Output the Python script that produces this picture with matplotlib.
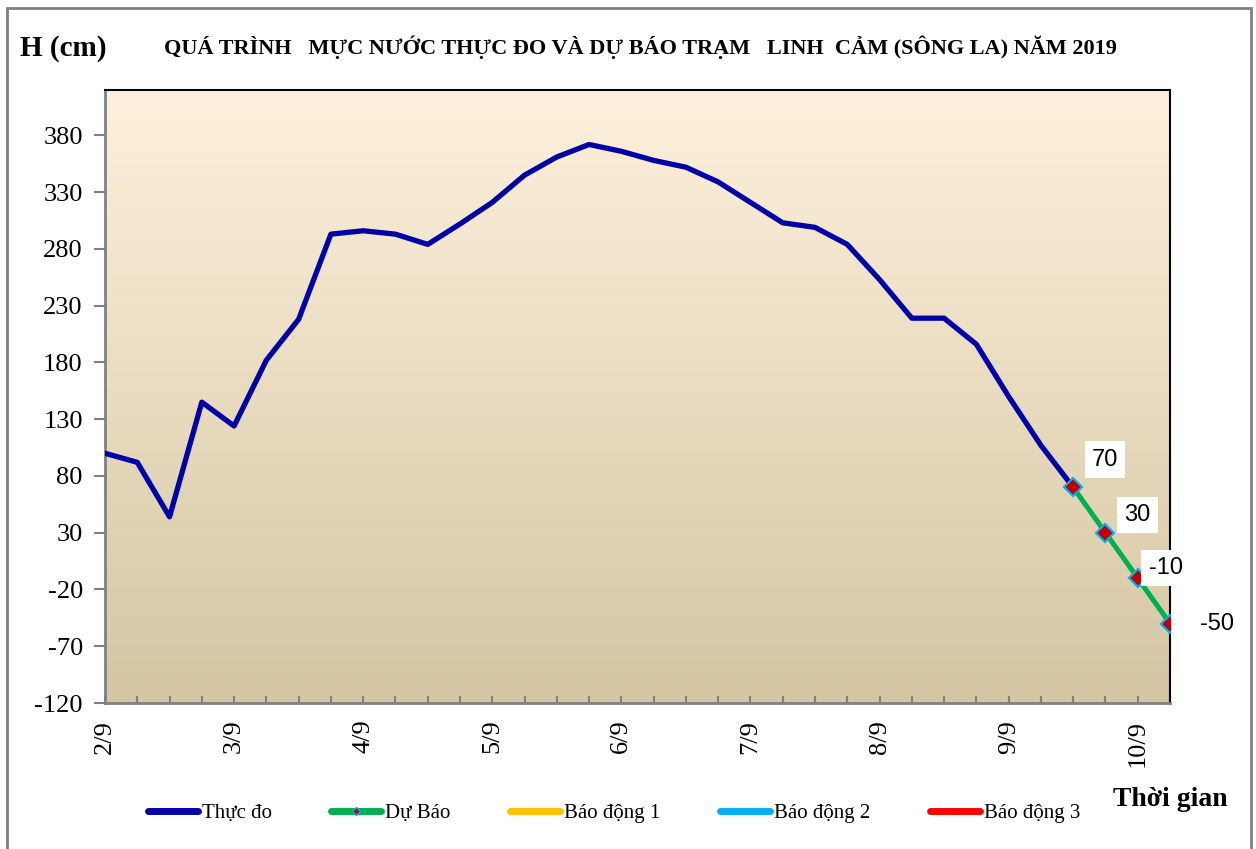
import numpy as np
import matplotlib
matplotlib.use("Agg")
import matplotlib.pyplot as plt
from matplotlib.lines import Line2D
from matplotlib.patches import Rectangle

# observed water level, every 6 hours from 2/9 00h
thuc_do = [100, 92, 44, 145, 124, 182, 218, 293, 296, 293, 284, 302,
           321, 345, 361, 372, 366, 358, 352, 339, 321, 303, 299, 284,
           253, 219, 219, 196, 150, 107, 70]
# forecast, from 9/9 12h
du_bao = [70, 30, -10, -50]
du_bao_start = 30
days = ["2/9", "3/9", "4/9", "5/9", "6/9", "7/9", "8/9", "9/9", "10/9"]
y_ticks = [-120, -70, -20, 30, 80, 130, 180, 230, 280, 330, 380]
legend_names = ["Thực đo", "Dự Báo", "Báo động 1", "Báo động 2", "Báo động 3"]

serif = "Liberation Serif"

fig = plt.figure(figsize=(12.56, 8.49), dpi=100)
ax = fig.add_axes([105/1256, 1-703/849, 1065/1256, 613/849])

# background gradient
grad = np.linspace(0, 1, 256).reshape(-1, 1)
top = np.array([253, 241, 221]) / 255
bot = np.array([212, 198, 162]) / 255
img = top + (bot - top) * grad[..., None]
ax.imshow(img.reshape(256, 1, 3), extent=[0, 33, -120, 420], aspect="auto",
          origin="upper", zorder=0)

x_obs = np.arange(len(thuc_do))
x_fc = np.arange(du_bao_start, du_bao_start + len(du_bao))
ax.plot(x_obs, thuc_do, color="#0000A8", lw=3.8, solid_joinstyle="round",
        solid_capstyle="round", zorder=3)
ax.plot(x_fc, du_bao, color="#00B050", lw=3.6, zorder=3)
ax.plot(x_fc, du_bao, ls="none", marker="D", ms=9.5, mfc="#C00000",
        mec="#00B0F0", mew=1.5, zorder=4)

offsets = [(23, 20), (23, 13), (20, 7), (34, 0)]
for xi, v, off in zip(x_fc, du_bao, offsets):
    ax.annotate(str(v), (xi, v), xytext=off, textcoords="offset points",
                ha="center", va="center", fontsize=17, family="Liberation Sans",
                bbox=dict(boxstyle="square,pad=0.3", fc="white", ec="none"),
                zorder=5, annotation_clip=False)

ax.set_xlim(0, 33)
ax.set_ylim(-120, 420)
ax.set_yticks(y_ticks)
ax.set_yticklabels([str(t) for t in y_ticks], family=serif, fontsize=19)
ax.tick_params(axis="y", direction="out", length=8, width=1.5, color="#808080", pad=8)
ax.set_xticks(np.arange(0, 33, 4))
ax.set_xticklabels(days, rotation=90, family=serif, fontsize=19)
ax.set_xticks(np.arange(0, 34, 1), minor=True)
ax.tick_params(axis="x", which="both", direction="in", length=5, width=1.5,
               color="#808080", pad=12)
for s in ["left", "bottom"]:
    ax.spines[s].set_color("#808080")
    ax.spines[s].set_linewidth(2)
for s in ["top", "right"]:
    ax.spines[s].set_color("black")
    ax.spines[s].set_linewidth(1.5)

fig.text(20/1256, 1-48/849, "H (cm)", family=serif, fontsize=21, weight="bold",
         va="center", ha="left")
fig.text(640/1256, 1-47/849,
         "QUÁ TRÌNH   MỰC NƯỚC THỰC ĐO VÀ DỰ BÁO TRẠM   LINH  CẢM (SÔNG LA) NĂM 2019",
         family=serif, fontsize=16, weight="bold", va="center", ha="center")
fig.text(1170/1256, 1-800/849, "Thời gian", family=serif, fontsize=20,
         weight="bold", va="center", ha="center")

handles = [
    Line2D([], [], color="#0000A8", lw=5, solid_capstyle="round"),
    Line2D([], [], color="#00B050", lw=5, marker="D", ms=4, mfc="#C00000",
           mec="#00B0F0", solid_capstyle="round"),
    Line2D([], [], color="#FFC000", lw=5, solid_capstyle="round"),
    Line2D([], [], color="#00B0F0", lw=5, solid_capstyle="round"),
    Line2D([], [], color="#FF0000", lw=5, solid_capstyle="round"),
]
fig.legend(handles, legend_names, loc="center", bbox_to_anchor=(614/1256, 1-813/849),
           ncol=5, frameon=False, prop={"family": serif, "size": 15},
           handlelength=2.4, handletextpad=0.2, columnspacing=2.85)

fig.add_artist(Rectangle((7/1256, -0.05), 1244/1256, 1.05 - 8/849,
                         transform=fig.transFigure, fill=False,
                         ec="#808080", lw=2))

fig.savefig("out.png", dpi=100)
